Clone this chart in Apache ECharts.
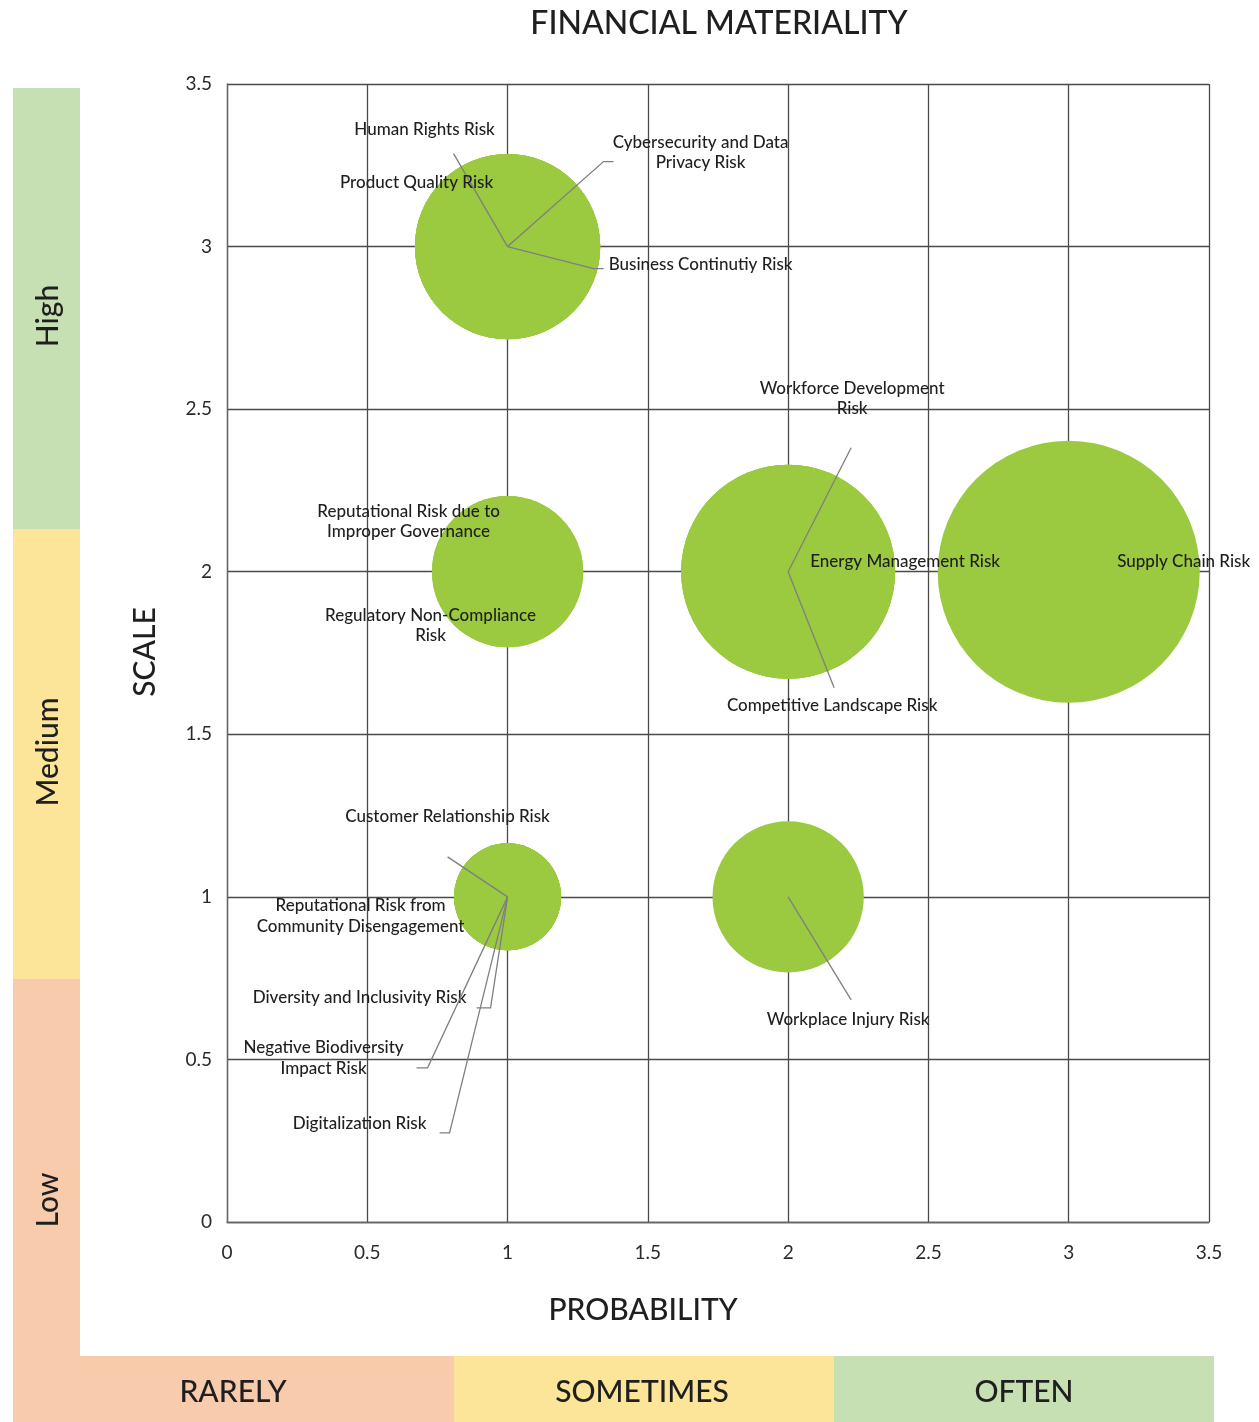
<!DOCTYPE html>
<html>
<head>
<meta charset="utf-8">
<title>Financial Materiality</title>
<script src="https://cdn.jsdelivr.net/npm/echarts@6/dist/echarts.min.js"></script>
<style>
  html, body { margin: 0; padding: 0; background: #ffffff; }
  #chart { width: 1259px; height: 1422px; }
</style>
</head>
<body>
<div id="chart"></div>
<script>
// Risk register: one bubble per risk (probability, scale, bubble size)
const riskNames = [
  'Human Rights Risk',
  'Product Quality Risk',
  'Cybersecurity and Data Privacy Risk',
  'Business Continutiy Risk',
  'Reputational Risk due to Improper Governance',
  'Regulatory Non-Compliance Risk',
  'Workforce Development Risk',
  'Energy Management Risk',
  'Competitive Landscape Risk',
  'Supply Chain Risk',
  'Customer Relationship Risk',
  'Reputational Risk from Community Disengagement',
  'Diversity and Inclusivity Risk',
  'Negative Biodiversity Impact Risk',
  'Digitalization Risk',
  'Workplace Injury Risk'
];
const probability = [1, 1, 1, 1, 1, 1, 2, 2, 2, 3, 1, 1, 1, 1, 1, 2];
const scale       = [3, 3, 3, 3, 2, 2, 2, 2, 2, 2, 1, 1, 1, 1, 1, 1];
const bubbleSize  = [3, 3, 3, 3, 2, 2, 4, 4, 4, 6, 1, 1, 1, 1, 1, 2];

const scaleBands = ['High', 'Medium', 'Low'];
const probabilityBands = ['RARELY', 'SOMETIMES', 'OFTEN'];

// Label placement: text centre offset from the bubble centre (px),
// words on the first line when wrapped, and optional leader-line bend points.
const labelPlacement = [
  { dx: -83,  dy: -117, line: [[-54, -93]] },
  { dx: -91,  dy: -64 },
  { dx: 193,  dy: -94,  wrap: 3, line: [[96, -85], [106, -85]] },
  { dx: 193,  dy: 18,   line: [[86, 22], [96, 22]] },
  { dx: -99,  dy: -50,  wrap: 4 },
  { dx: -77,  dy: 54,   wrap: 2 },
  { dx: 64,   dy: -173, wrap: 2, line: [[63, -124]] },
  { dx: 117,  dy: -10 },
  { dx: 44,   dy: 134,  line: [[46, 116]] },
  { dx: 115,  dy: -10 },
  { dx: -60,  dy: -80,  line: [[-60, -40]] },
  { dx: -147, dy: 19,   wrap: 3 },
  { dx: -148, dy: 101,  line: [[-17, 111], [-31, 111]] },
  { dx: -184, dy: 161,  wrap: 2, line: [[-80, 171], [-91, 171]] },
  { dx: -148, dy: 227,  line: [[-58, 236], [-68, 236]] },
  { dx: 60,   dy: 123,  line: [[63, 103]] }
];

const FONT = 'Lato, "Noto Sans", sans-serif';
const TEXT_COLOR = '#1f1f1f';
const BUBBLE_COLOR = '#9BC93F';
const BAND_GREEN = '#C6E0B4';
const BAND_YELLOW = '#FCE598';
const BAND_PEACH = '#F8CBAD';
const BIG_FONT = '500 30px ' + FONT;

function wrapName(name, words) {
  if (!words) return name;
  const parts = name.split(' ');
  return parts.slice(0, words).join(' ') + '\n' + parts.slice(words).join(' ');
}

function bigText(text, x, y, rotate) {
  return {
    type: 'text', x: x, y: y, rotation: rotate ? Math.PI / 2 : 0, silent: true,
    style: { text: text, font: BIG_FONT, fill: TEXT_COLOR, align: 'center', verticalAlign: 'middle' }
  };
}

const points = riskNames.map((_, i) => [probability[i], scale[i], bubbleSize[i]]);

const chart = echarts.init(document.getElementById('chart'), null, { renderer: 'canvas' });

const option = {
  backgroundColor: '#ffffff',
  animation: false,
  textStyle: { fontFamily: FONT },
  grid: { left: 227, right: 50, top: 84, bottom: 200 },
  xAxis: {
    type: 'value',
    min: 0, max: 3.5, interval: 0.5,
    axisLine: { show: true, lineStyle: { color: '#666', width: 1.3 } },
    axisTick: { show: false },
    axisLabel: { fontSize: 19, color: '#2a2a2a', margin: 21, fontFamily: FONT },
    splitLine: { show: true, lineStyle: { color: '#4a4a4a', width: 1.3 } }
  },
  yAxis: {
    type: 'value',
    min: 0, max: 3.5, interval: 0.5,
    axisLine: { show: true, lineStyle: { color: '#666', width: 1.3 } },
    axisTick: { show: false },
    axisLabel: { fontSize: 19, color: '#2a2a2a', margin: 15, fontFamily: FONT },
    splitLine: { show: true, lineStyle: { color: '#4a4a4a', width: 1.3 } }
  },
  graphic: [
    // Scale band (left)
    { type: 'rect', shape: { x: 13, y: 88, width: 67, height: 441 }, style: { fill: BAND_GREEN }, silent: true },
    { type: 'rect', shape: { x: 13, y: 529, width: 67, height: 450 }, style: { fill: BAND_YELLOW }, silent: true },
    { type: 'rect', shape: { x: 13, y: 979, width: 67, height: 443 }, style: { fill: BAND_PEACH }, silent: true },
    bigText(scaleBands[0], 48, 316, true),
    bigText(scaleBands[1], 48, 752, true),
    bigText(scaleBands[2], 48, 1200, true),
    // Probability band (bottom)
    { type: 'rect', shape: { x: 13, y: 1356, width: 441, height: 66 }, style: { fill: BAND_PEACH }, silent: true },
    { type: 'rect', shape: { x: 454, y: 1356, width: 380, height: 66 }, style: { fill: BAND_YELLOW }, silent: true },
    { type: 'rect', shape: { x: 834, y: 1356, width: 380, height: 66 }, style: { fill: BAND_GREEN }, silent: true },
    bigText(probabilityBands[0], 233, 1392),
    bigText(probabilityBands[1], 642, 1392),
    bigText(probabilityBands[2], 1024, 1392),
    // Axis titles and chart title
    bigText('SCALE', 145, 652, true),
    bigText('PROBABILITY', 643, 1310),
    { type: 'text', x: 719, y: 24, silent: true,
      style: { text: 'FINANCIAL MATERIALITY', font: '500 32px ' + FONT, fill: TEXT_COLOR, align: 'center', verticalAlign: 'middle' } }
  ],
  series: [
    {
      name: 'Risks',
      type: 'scatter',
      data: points,
      symbol: 'circle',
      symbolSize: v => 107 * Math.sqrt(v[2]),
      itemStyle: { color: BUBBLE_COLOR, opacity: 1 },
      emphasis: { disabled: true },
      z: 3
    },
    {
      name: 'Labels',
      type: 'custom',
      data: points,
      clip: false,
      z: 4,
      silent: true,
      renderItem: function (params, api) {
        const i = params.dataIndex;
        const c = api.coord([api.value(0), api.value(1)]);
        const p = labelPlacement[i];
        const children = [];
        if (p.line) {
          const pts = [[c[0], c[1]]].concat(p.line.map(d => [c[0] + d[0], c[1] + d[1]]));
          children.push({
            type: 'polyline',
            shape: { points: pts },
            style: { stroke: '#7f7f7f', lineWidth: 1.3, fill: null }
          });
        }
        children.push({
          type: 'text',
          x: c[0] + p.dx,
          y: c[1] + p.dy,
          style: {
            text: wrapName(riskNames[i], p.wrap),
            font: '500 17px ' + FONT,
            fill: TEXT_COLOR,
            align: 'center',
            verticalAlign: 'middle',
            lineHeight: 20.5
          }
        });
        return { type: 'group', children: children };
      }
    }
  ]
};

chart.setOption(option);
</script>
</body>
</html>
